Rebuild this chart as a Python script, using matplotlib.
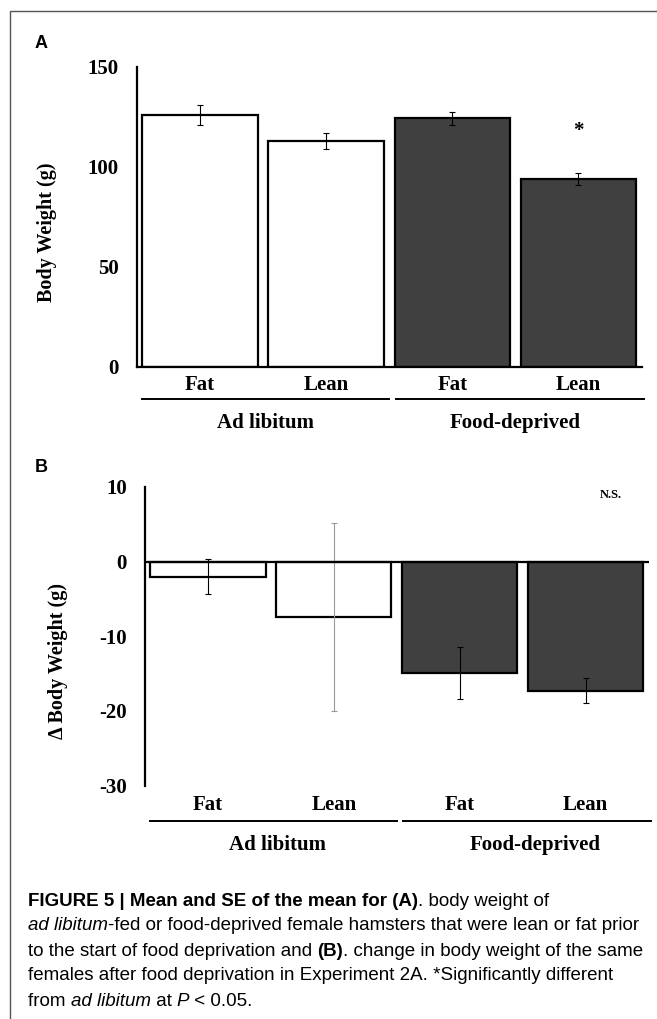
import matplotlib.pyplot as plt
from matplotlib.patches import Rectangle
from matplotlib.transforms import blended_transform_factory

W, H = 657, 1019

categories = ['Fat', 'Lean', 'Fat', 'Lean']
groups = ['Ad libitum', 'Food-deprived']
bar_colors = ['white', 'white', '#404040', '#404040']

weight_mean = [126, 113, 124.3, 94]
weight_se = [5, 4, 3.2, 3]

delta_mean = [-2.0, -7.4, -14.9, -17.3]
delta_se = [2.3, 12.6, 3.5, 1.7]
delta_err_colors = ['black', '#9a9a9a', 'black', 'black']

serif = 'Liberation Serif'
sans = 'Liberation Sans'

fig = plt.figure(figsize=(W / 100, H / 100), dpi=100)


def px_axes(left, top, right, bottom):
    return fig.add_axes([left / W, 1 - bottom / H, (right - left) / W, (bottom - top) / H])


# outer frame
fig.patches.append(Rectangle((10 / W, -0.01), 1.0, 1 - 11 / H + 0.01, transform=fig.transFigure,
                             fill=False, edgecolor='#555555', linewidth=1.0))


def style_axes(ax, ylim, yticks):
    ax.set_xlim(-0.5, 3.5)
    ax.set_ylim(*ylim)
    ax.set_yticks(yticks)
    ax.set_yticklabels([str(t) for t in yticks], fontfamily=serif, fontweight='bold', fontsize=15)
    ax.set_xticks([])
    ax.tick_params(axis='y', length=0, pad=13)
    for s in ['top', 'right']:
        ax.spines[s].set_visible(False)
    ax.spines['left'].set_linewidth(1.6)
    ax.patch.set_alpha(0)


def group_labels(ax, ycat, yline, ygrp, grp_x):
    tr = blended_transform_factory(ax.transData, ax.transAxes)
    for i, c in enumerate(categories):
        ax.text(i, ycat, c, transform=tr, ha='center', va='center', fontfamily=serif,
                fontweight='bold', fontsize=15)
    for (x0, x1) in [(-0.46, 1.5), (1.55, 3.52)]:
        ax.plot([x0, x1], [yline, yline], transform=tr, color='black', lw=1.4, clip_on=False)
    for g, x in zip(groups, grp_x):
        ax.text(x, ygrp, g, transform=tr, ha='center', va='center', fontfamily=serif,
                fontweight='bold', fontsize=15)


# ---- panel A ----
axA = px_axes(137, 67, 641.5, 367)
style_axes(axA, (0, 150), [0, 50, 100, 150])
axA.spines['bottom'].set_linewidth(1.6)
x = range(len(categories))
axA.bar(x, weight_mean, width=0.915, color=bar_colors, edgecolor='black', linewidth=1.6)
axA.errorbar(x, weight_mean, yerr=weight_se, fmt='none', ecolor='black', elinewidth=0.8,
             capsize=2.5, capthick=0.8)
axA.text(3, weight_mean[3] + 24, '*', ha='center', va='center', fontfamily=serif,
         fontweight='bold', fontsize=15)
axA.set_ylabel('Body Weight (g)', fontfamily=serif, fontweight='bold', fontsize=14.5)
axA.yaxis.set_label_coords(-0.159, 0.45)
group_labels(axA, -0.06, -0.107, -0.187, [0.52, 2.5])
fig.text(41 / W, 1 - 43 / H, 'A', ha='center', va='center', fontfamily=sans,
         fontweight='bold', fontsize=13)

# ---- panel B ----
axB = px_axes(145, 487, 648.5, 785.5)
style_axes(axB, (-30, 10), [-30, -20, -10, 0, 10])
axB.spines['bottom'].set_visible(False)
axB.axhline(0, color='black', lw=1.6, zorder=3)
axB.bar(x, delta_mean, width=0.915, color=bar_colors, edgecolor='black', linewidth=1.6)
for i in x:
    axB.errorbar(i, delta_mean[i], yerr=delta_se[i], fmt='none', ecolor=delta_err_colors[i],
                 elinewidth=0.8, capsize=2.5, capthick=0.8)
axB.text(3.2, 8.9, 'N.S.', ha='center', va='center', fontfamily=serif, fontweight='bold',
         fontsize=9)
axB.set_ylabel('\u0394 Body Weight (g)', fontfamily=serif, fontweight='bold', fontsize=14.5)
axB.yaxis.set_label_coords(-0.152, 0.417)
group_labels(axB, -0.065, -0.119, -0.2, [0.55, 2.6])
fig.text(41 / W, 1 - 467 / H, 'B', ha='center', va='center', fontfamily=sans,
         fontweight='bold', fontsize=13)

# ---- caption ----
caption = [
    [('FIGURE 5 | Mean and SE of the mean for (A)', 'bold'), ('. body weight of', 'normal')],
    [('ad libitum', 'italic'), ('-fed or food-deprived female hamsters that were lean or fat prior', 'normal')],
    [('to the start of food deprivation and ', 'normal'), ('(B)', 'bold'),
     ('. change in body weight of the same', 'normal')],
    [('females after food deprivation in Experiment 2A. *Significantly different', 'normal')],
    [('from ', 'normal'), ('ad libitum', 'italic'), (' at ', 'normal'), ('P', 'italic'),
     (' < 0.05.', 'normal')],
]
line_y = [901, 926, 951, 976, 1001]
cap_size = 13.5

fig.canvas.draw()
renderer = fig.canvas.get_renderer()


def seg_width(s, style):
    kw = dict(fontfamily=sans, fontsize=cap_size)
    if style == 'bold':
        kw['fontweight'] = 'bold'
    if style == 'italic':
        kw['fontstyle'] = 'italic'
    t = fig.text(0, 0, '|' + s + '|', **kw)
    w = t.get_window_extent(renderer).width
    t.remove()
    t = fig.text(0, 0, '||', **kw)
    w -= t.get_window_extent(renderer).width
    t.remove()
    return w, kw


for segs, yy in zip(caption, line_y):
    xpos = 28
    for s, style in segs:
        w, kw = seg_width(s, style)
        fig.text(xpos / W, 1 - yy / H, s, ha='left', va='center', **kw)
        xpos += w

fig.savefig('out.png', dpi=100)
